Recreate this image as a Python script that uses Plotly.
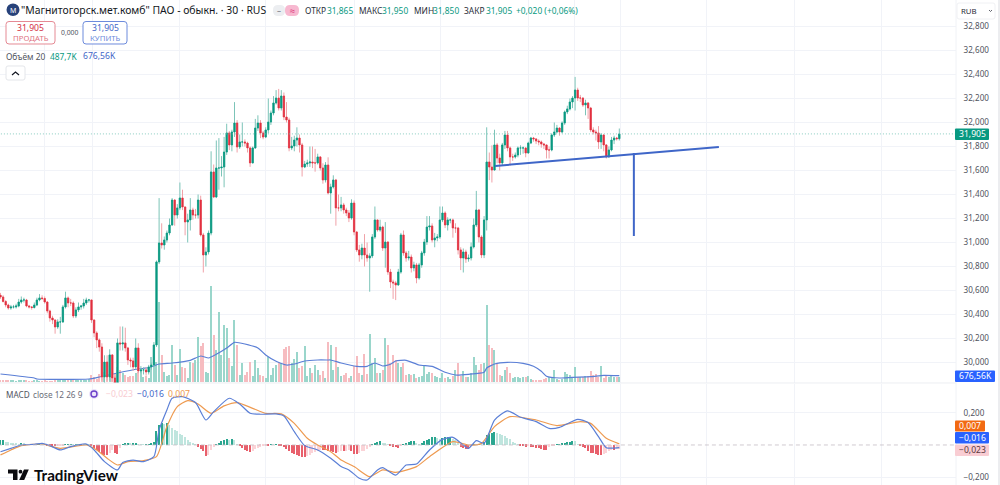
import plotly.graph_objects as go

# MMK 30-minute bars, RUB
closes = [
30.546,30.508,30.479,30.454,30.463,30.463,30.471,30.504,30.521,30.521,
30.471,30.463,30.458,30.479,30.521,30.538,30.533,30.504,30.429,30.371,
30.354,30.296,30.338,30.338,30.463,30.538,30.496,30.496,30.388,30.438,
30.463,30.471,30.496,30.521,30.521,30.354,30.246,30.188,30.129,29.879,
30.004,29.879,30.063,29.871,29.829,30.163,30.154,30.163,30.121,30.021,
30.013,29.963,30.121,29.929,29.938,29.938,29.921,29.963,29.979,30.146,
30.838,30.996,30.979,31.021,31.079,31.146,31.354,31.229,31.288,31.371,
31.296,31.171,31.188,31.271,31.229,31.229,31.354,31.063,30.896,30.921,
31.079,31.588,31.379,31.621,31.621,31.629,31.754,31.913,31.813,31.921,
31.996,31.796,31.838,31.838,31.829,31.788,31.663,31.788,31.954,31.996,
31.913,31.879,31.938,32.004,32.079,32.163,32.204,32.121,32.221,32.046,
32.021,31.788,31.804,31.854,31.871,31.813,31.629,31.654,31.663,31.671,
31.663,31.663,31.713,31.621,31.521,31.646,31.413,31.463,31.521,31.288,
31.288,31.313,31.271,31.246,31.204,31.329,31.088,30.938,30.896,30.954,
30.896,30.871,30.888,31.046,31.188,31.104,31.129,30.954,31.004,30.754,
30.671,30.663,30.646,30.754,31.063,30.913,30.871,30.879,30.788,30.813,
30.704,30.813,30.913,31.004,31.129,31.138,31.021,31.038,31.046,31.188,
31.246,31.146,31.188,31.188,31.121,31.121,30.938,30.871,30.921,30.863,
30.871,30.963,31.146,31.271,31.046,30.896,31.188,31.671,31.629,31.604,
31.813,31.704,31.663,31.813,31.896,31.788,31.713,31.713,31.729,31.788,
31.788,31.788,31.746,31.829,31.871,31.863,31.846,31.838,31.821,31.813,
31.771,31.771,31.896,31.921,31.954,31.921,31.996,32.088,32.113,32.171,
32.204,32.271,32.204,32.204,32.146,32.163,32.121,31.938,31.921,31.913,
31.838,31.896,31.813,31.713,31.771,31.854,31.871,31.865,31.905]

highs = [
30.58,30.56,30.52,30.49,30.48,30.48,30.49,30.53,30.55,30.54,
30.53,30.48,30.47,30.50,30.54,30.57,30.56,30.55,30.51,30.44,
30.39,30.36,30.36,30.38,30.48,30.59,30.55,30.53,30.51,30.46,
30.50,30.48,30.53,30.54,30.53,30.50,30.36,30.26,30.20,30.16,
30.06,30.06,30.11,30.07,29.89,30.20,30.30,30.30,30.29,30.13,
30.04,30.04,30.20,30.16,29.97,29.96,29.96,29.98,30.00,30.17,
30.85,31.37,31.16,31.05,31.10,31.20,31.37,31.36,31.32,31.50,
31.44,31.30,31.24,31.37,31.29,31.28,31.40,31.39,31.08,30.96,
31.10,31.76,31.65,31.85,31.87,31.72,31.88,31.99,31.93,31.94,
32.17,32.02,31.90,32.00,31.86,31.84,31.80,31.80,32.03,32.06,
32.02,31.93,31.96,32.20,32.10,32.22,32.27,32.28,32.27,32.25,
32.17,32.04,31.88,31.89,31.96,31.90,31.83,31.68,31.69,31.80,
31.80,31.78,31.74,31.72,31.66,31.67,31.71,31.49,31.56,31.53,
31.40,31.38,31.33,31.29,31.27,31.36,31.35,31.09,30.98,30.99,
31.07,31.00,30.91,31.07,31.30,31.19,31.19,31.14,31.17,31.01,
30.78,30.69,30.68,30.78,31.08,31.10,30.93,30.93,30.90,30.84,
30.83,30.83,30.93,31.03,31.22,31.22,31.16,31.08,31.07,31.30,
31.30,31.26,31.21,31.20,31.20,31.16,31.13,30.96,30.95,30.94,
30.90,31.00,31.20,31.43,31.28,31.06,31.22,31.96,31.75,31.81,
31.94,31.83,31.74,31.83,31.93,31.93,31.80,31.74,31.75,31.80,
31.81,31.80,31.79,31.84,31.88,31.88,31.87,31.86,31.85,31.83,
31.81,31.80,31.91,32.00,31.98,31.96,32.01,32.10,32.14,32.20,
32.22,32.38,32.29,32.23,32.21,32.19,32.17,32.13,31.96,31.94,
31.97,31.91,31.90,31.82,31.80,31.88,31.89,31.88,31.95]

lows = [
30.53,30.50,30.46,30.44,30.44,30.45,30.45,30.46,30.49,30.50,
30.46,30.45,30.44,30.45,30.47,30.51,30.52,30.49,30.41,30.34,
30.32,30.24,30.28,30.24,30.33,30.45,30.46,30.47,30.37,30.37,
30.42,30.44,30.45,30.48,30.50,30.33,30.21,30.12,30.09,29.85,
29.83,29.85,29.85,29.84,29.82,29.82,30.10,30.10,30.09,29.98,
29.96,29.93,29.94,29.91,29.91,29.90,29.89,29.90,29.94,29.97,
30.13,30.82,30.95,30.94,31.00,31.06,31.14,31.14,31.20,31.27,
31.27,31.06,31.00,31.10,31.19,31.20,31.20,31.05,30.75,30.80,
30.90,31.06,31.37,31.37,31.44,31.55,31.46,31.73,31.77,31.76,
31.88,31.75,31.78,31.80,31.80,31.75,31.63,31.66,31.78,31.93,
31.87,31.86,31.87,31.91,31.98,32.06,32.15,32.10,32.10,32.02,
32.00,31.76,31.77,31.76,31.80,31.75,31.55,31.62,31.63,31.63,
31.62,31.59,31.65,31.60,31.49,31.50,31.40,31.24,31.45,31.14,
31.26,31.26,31.24,31.22,31.17,31.19,31.06,30.92,30.84,30.86,
30.80,30.84,30.59,30.87,31.03,31.09,31.09,30.93,30.79,30.73,
30.62,30.53,30.52,30.64,30.74,30.89,30.84,30.85,30.75,30.76,
30.66,30.69,30.79,30.89,30.98,31.10,31.00,30.96,31.01,31.03,
31.17,31.12,31.10,31.16,31.04,31.08,30.90,30.77,30.75,30.83,
30.84,30.85,30.95,31.13,31.00,30.87,30.87,31.10,31.52,31.50,
31.60,31.66,31.60,31.64,31.78,31.76,31.64,31.68,31.70,31.71,
31.73,31.74,31.71,31.74,31.82,31.84,31.82,31.81,31.79,31.78,
31.70,31.70,31.76,31.88,31.91,31.89,31.91,31.98,32.07,32.10,
32.12,32.10,32.18,32.17,32.13,32.06,32.03,31.92,31.90,31.85,
31.78,31.78,31.76,31.70,31.71,31.76,31.82,31.85,31.85]

first_open = 30.56
opens = [first_open] + closes[:-1]

# Traded volume per bar, thousands of lots
volumes = [
214,160,214,160,214,160,107,160,160,214,
160,107,107,160,160,107,107,214,107,107,
107,160,214,321,375,321,214,268,214,268,
214,214,214,160,321,749,535,321,856,1284,
1070,856,1498,1070,856,1605,1284,963,749,535,
642,642,963,1070,1391,535,642,428,2675,2782,
2140,8560,2889,1070,610,749,3959,1819,749,3531,
1605,1498,428,2140,2033,2354,4815,3852,4173,1070,
963,10272,5029,3424,7490,2889,6099,5778,2568,1712,
6634,3959,749,2033,749,1070,2140,642,2354,1498,
749,642,428,2675,749,1498,1819,2140,2033,3531,
3745,3852,2033,2461,3210,1498,1712,3852,642,1498,
963,1819,1284,749,1177,428,4280,3959,1284,3745,
1605,642,749,963,428,642,1712,2782,963,749,
2996,856,5136,2033,2568,963,963,1284,4708,3959,
2033,2889,2354,2033,1605,2033,749,856,749,856,
428,535,642,1712,856,1070,963,642,535,428,
963,428,535,321,642,1284,2033,642,1177,535,
535,963,2675,1819,1284,1926,2033,8239,3959,3638,
3424,1926,749,642,1284,1605,963,428,535,535,
428,535,535,642,321,214,214,214,214,321,
428,535,535,1284,321,214,321,1070,856,749,
428,1605,535,535,535,642,642,1177,749,856,
535,1712,428,642,535,642,535,535,488]

# 20-bar moving average of volume, thousands of lots
vol_ma_index = [0,13,14,34,38,45,53,57,61,66,73,77,80,83,87,90,94,99,102,106,
                110,113,117,122,126,127,131,137,141,144,147,150,152,156,161,166,
                171,175,180,186,187,190,195,201,205,208,210,215,220,227,232,238]
vol_ma_values = [856,428,321,321,535,963,1391,1530,1926,2033,2322,2782,2568,2964,3638,
                 4248,4066,3638,2889,2215,1819,1926,2247,2354,2354,2354,2033,1680,1680,
                 2033,1712,1894,2247,2322,1819,1680,1038,749,824,1038,1498,1926,2108,
                 2001,1680,1145,610,428,503,567,717,677]

# MACD(12, 26, 9)
macd_index = [0,4,8,13,16,19,23,27,33,36,40,45,47,51,55,59,61,64,66,70,75,79,82,88,92,96,
              100,106,109,113,117,122,127,131,134,138,141,145,147,152,156,160,165,170,
              174,178,180,183,186,190,195,200,206,211,215,222,226,230,233,238]
macd_values = [-0.042,-0.021,0.000,0.004,0.010,-0.004,-0.031,-0.010,0.006,-0.031,-0.104,
               -0.156,-0.110,-0.094,-0.104,-0.073,0.094,0.219,0.292,0.302,0.265,0.156,
               0.208,0.292,0.256,0.198,0.192,0.194,0.181,0.083,-0.004,-0.031,-0.083,
               -0.135,-0.156,-0.208,-0.219,-0.156,-0.142,-0.188,-0.125,-0.119,-0.031,
               0.035,0.048,0.000,-0.021,0.027,0.010,0.156,0.213,0.173,0.146,0.104,0.110,
               0.160,0.140,0.052,-0.017,-0.016]
signal_index = [0,4,8,13,16,23,33,37,41,45,49,55,60,64,68,72,76,81,86,91,97,102,108,113,
                118,122,127,131,136,142,147,152,160,165,174,180,185,190,196,206,214,223,
                227,233,238]
signal_values = [-0.062,-0.031,-0.004,0.004,0.006,-0.021,0.000,-0.031,-0.083,-0.125,-0.104,
                 -0.098,-0.073,0.115,0.240,0.277,0.256,0.198,0.244,0.265,0.229,0.198,0.194,
                 0.135,0.042,0.000,-0.042,-0.094,-0.135,-0.198,-0.156,-0.171,-0.135,-0.073,
                 0.021,0.000,0.010,0.115,0.177,0.156,0.121,0.146,0.135,0.042,0.007]
histogram = [
.03,.03,.02,.016,.014,.012,.008,.006,.008,.007,
.005,.004,.004,.003,.004,.005,.004,.002,-.002,-.004,
-.006,-.008,-.006,-.004,-.002,.003,.004,.004,.003,.005,
.006,.004,.005,.006,.003,-.006,-.018,-.03,-.045,-.055,
-.06,-.06,-.05,-.03,-.05,-.055,-.02,.004,.008,.012,
.008,.01,.012,.005,.003,.002,.003,.004,.008,.02,
.09,.125,.135,.13,.135,.125,.105,.095,.085,.07,
.06,.05,.03,.02,.012,.005,-.012,-.025,-.04,-.07,
-.065,-.03,-.012,.005,.014,.022,.03,.036,.032,.036,
.03,.005,-.008,-.02,-.03,-.035,-.045,-.04,-.025,-.018,
-.012,-.006,-.004,-.004,.003,.002,.003,-.002,-.006,-.014,
-.022,-.04,-.05,-.055,-.06,-.07,-.072,-.078,-.07,-.06,
-.05,-.042,-.036,-.03,-.03,-.034,-.04,-.04,-.045,-.05,
-.045,-.04,-.04,-.035,-.03,-.04,-.055,-.055,-.05,-.04,
-.035,-.025,-.012,.003,.012,.018,.022,.015,.014,.003,
-.005,-.01,-.014,-.016,-.005,.003,.015,.02,.022,.024,
.014,.006,.012,.022,.03,.04,.05,.052,.042,.04,
.045,.05,.05,.05,.04,.03,.012,-.01,-.016,-.024,
-.024,-.008,.006,.002,.005,.004,.02,.06,.07,.075,
.08,.075,.07,.065,.055,.045,.035,.02,.01,.004,
-.005,-.008,-.01,-.008,-.012,-.014,-.018,-.02,-.025,-.03,
-.03,-.012,-.006,-.004,.004,.006,.008,.012,.016,.02,
.025,.024,.005,-.008,-.012,-.02,-.035,-.05,-.05,-.055,
-.06,-.062,-.055,-.05,-.04,-.03,-.03,-.024,-.023]

# User drawings: neckline and measured move
neckline_bar = [190.2, 276.3]
neckline_price = [31.638, 31.796]
target_bar = [243.6, 243.6]
target_price = [31.746, 31.054]

session_ticks = [17.1, 35.2, 68.7, 102.1, 136.0, 169.4, 202.9, 220.6, 238.3, 271.7, 305.2, 338.7]
price_ticks = [30.0, 30.2, 30.4, 30.6, 30.8, 31.0, 31.2, 31.4, 31.6, 31.8, 32.0, 32.2, 32.4, 32.6, 32.8]
macd_ticks = [-0.2, 0.2]
last_price = 31.905

assert len(closes) == len(highs) == len(lows) == len(volumes) == len(histogram), (
    len(closes), len(highs), len(lows), len(volumes), len(histogram))
assert len(vol_ma_index) == len(vol_ma_values), (len(vol_ma_index), len(vol_ma_values))
assert len(macd_index) == len(macd_values), (len(macd_index), len(macd_values))
assert len(signal_index) == len(signal_values), (len(signal_index), len(signal_values))

W, H = 1000, 485
UP, DOWN = "#089981", "#e2303f"
UP_SOFT, DOWN_SOFT = "#9ad6cb", "#f6bcc0"
WICK_UP, WICK_DOWN = "#7cc4b8", "#f0a2a8"
BLUE, ORANGE = "#5b7fd6", "#ee9a50"
GRID = "#f1f3f8"
TEXT = "#2a2e39"
FONT = "Noto Sans, sans-serif"

bars = list(range(len(closes)))
rising = [c >= o for o, c in zip(opens, closes)]


def hist_colour(i):
    v = histogram[i]
    prev = histogram[i - 1] if i else v
    if v >= 0:
        return "#2ba690" if v >= prev else "#bfe5de"
    return "#e8606c" if v <= prev else "#fbd3d7"


fig = go.Figure()

fig.add_trace(go.Bar(
    x=bars, y=volumes, width=0.5, xaxis="x", yaxis="y",
    marker=dict(color=[UP_SOFT if r else DOWN_SOFT for r in rising], line_width=0),
))
fig.add_trace(go.Scatter(
    x=vol_ma_index, y=vol_ma_values, mode="lines", xaxis="x", yaxis="y",
    line=dict(color=BLUE, width=1.2, shape="spline", smoothing=0.5),
))

# Wicks in the softer shade, bodies on top in the full colour
fig.add_trace(go.Candlestick(
    x=bars, open=opens, high=highs, low=lows, close=closes, xaxis="x", yaxis="y2",
    whiskerwidth=0,
    increasing=dict(line=dict(color=WICK_UP, width=1), fillcolor=UP),
    decreasing=dict(line=dict(color=WICK_DOWN, width=1), fillcolor=DOWN),
))
fig.add_trace(go.Candlestick(
    x=bars, open=opens, close=closes, xaxis="x", yaxis="y2",
    high=[max(o, c) for o, c in zip(opens, closes)],
    low=[min(o, c) for o, c in zip(opens, closes)],
    whiskerwidth=0,
    increasing=dict(line=dict(color=UP, width=0.6), fillcolor=UP),
    decreasing=dict(line=dict(color=DOWN, width=0.6), fillcolor=DOWN),
))
fig.add_trace(go.Scatter(
    x=neckline_bar, y=neckline_price, mode="lines", xaxis="x", yaxis="y2",
    line=dict(color="#3f66c8", width=2),
))
fig.add_trace(go.Scatter(
    x=target_bar, y=target_price, mode="lines", xaxis="x", yaxis="y2",
    line=dict(color="#3f66c8", width=2),
))

fig.add_trace(go.Bar(
    x=bars, y=histogram, width=0.5, xaxis="x2", yaxis="y3",
    marker=dict(color=[hist_colour(i) for i in bars], line_width=0),
))
fig.add_trace(go.Scatter(
    x=signal_index, y=signal_values, mode="lines", xaxis="x2", yaxis="y3",
    line=dict(color=ORANGE, width=1.2, shape="spline", smoothing=0.6),
))
fig.add_trace(go.Scatter(
    x=macd_index, y=macd_values, mode="lines", xaxis="x2", yaxis="y3",
    line=dict(color=BLUE, width=1.2, shape="spline", smoothing=0.6),
))


def px(x):
    return x / W


def py(y):
    return 1 - y / H


def rounded(x0, y0, x1, y1, r):
    pts = [("M", x0 + r, y0), ("L", x1 - r, y0), ("Q", x1, y0, x1, y0 + r), ("L", x1, y1 - r),
           ("Q", x1, y1, x1 - r, y1), ("L", x0 + r, y1), ("Q", x0, y1, x0, y1 - r),
           ("L", x0, y0 + r), ("Q", x0, y0, x0 + r, y0)]
    out = []
    for p in pts:
        coords = p[1:]
        pairs = [f"{px(coords[k]):.5f},{py(coords[k + 1]):.5f}" for k in range(0, len(coords), 2)]
        out.append(p[0] + " ".join(pairs))
    return " ".join(out) + " Z"


def poly(points, closed=True):
    body = " L".join(f"{px(x):.5f},{py(y):.5f}" for x, y in points)
    return "M" + body + (" Z" if closed else "")


shapes = []
annotations = []


def box(x0, y0, x1, y1, fill="rgba(0,0,0,0)", line=None, r=1.5, lw=1):
    shapes.append(dict(type="path", xref="paper", yref="paper", path=rounded(x0, y0, x1, y1, r),
                       fillcolor=fill, line=dict(color=line or "rgba(0,0,0,0)", width=lw), layer="above"))


def stroke(points, colour, lw=1, fill=None, closed=False):
    shapes.append(dict(type="path", xref="paper", yref="paper", path=poly(points, closed),
                       fillcolor=fill or "rgba(0,0,0,0)", line=dict(color=colour, width=lw), layer="above"))


def label(x, y, text, colour=TEXT, size=9, anchor="left", family=FONT):
    annotations.append(dict(xref="paper", yref="paper", x=px(x), y=py(y), text=text, showarrow=False,
                            xanchor=anchor, yanchor="middle", font=dict(color=colour, size=size, family=family),
                            borderpad=0, borderwidth=0))


# Pane separators
stroke([(0, 383), (956, 383)], "#eceef2")
stroke([(956, 0), (956, 485)], "#f0f2f6")
stroke([(999, 0), (999, 485)], "#d9dbe0")

# Last price line and zero line
shapes.append(dict(type="line", xref="x", yref="y2", x0=-1, x1=367.5, y0=last_price, y1=last_price,
                   line=dict(color="#6cc0b1", width=0.8, dash="1px,2px"), layer="above"))
shapes.append(dict(type="line", xref="x2", yref="y3", x0=-1, x1=367.5, y0=0, y1=0,
                   line=dict(color="#c4bcc4", width=0.8, dash="4px,3px"), layer="above"))

# Header row
shapes.append(dict(type="circle", xref="paper", yref="paper", x0=px(6.5), x1=px(19.5), y0=py(16), y1=py(3.5),
                   fillcolor="#27427a", line_width=0, layer="above"))
label(13, 10, "M", "#ffffff", 7, "center")
label(21, 10, '"Магнитогорск.мет.комб" ПАО - обыкн. · 30 · RUS', "#131722", 10.4)
box(273, 5, 285, 16, "#eceef1", r=5)
label(279, 10, "–", "#787b86", 8, "center")
box(285, 5, 299, 16, "#f7b8d0", r=5)
label(292, 10, "≈", "#d81e6b", 9, "center")

header_parts = [(305, "ОТКР", TEXT), (327, "31,865", UP), (359, "МАКС", TEXT), (382, "31,950", UP),
                (414, "МИН", TEXT), (433, "31,850", UP), (464, "ЗАКР", TEXT), (486, "31,905", UP),
                (516, "+0,020 (+0,06%)", UP)]
for x, text, colour in header_parts:
    label(x, 10, text, colour, 8.4)

# Order buttons
box(6, 21.5, 55, 44, "#ffffff", "#e58a94", r=3)
label(30.5, 28, "31,905", "#d32f3f", 8.6, "center")
label(30.5, 38, "ПРОДАТЬ", "#e0737f", 7.8, "center")
label(69.5, 32.5, "0,000", "#50535e", 6.8, "center")
box(83, 21.5, 127, 44, "#ffffff", "#6d8bdc", r=3)
label(105, 28, "31,905", "#3f66c8", 8.6, "center")
label(105, 38, "КУПИТЬ", "#6d8bdc", 7.8, "center")

# Volume legend
label(6, 56, "Объём 20", "#50535e", 8.4)
label(50, 56, "487,7K", UP, 8.4)
label(83, 56, "676,56K", "#3f66c8", 8.6)
box(6, 66, 25, 80, "#ffffff", "#e4e6ea", r=2)
stroke([(12, 75), (15.5, 72), (19, 75)], "#131722", 1.2)

# Currency selector
box(957, 3, 995, 19, "#ffffff", "#f0f1f4", r=2)
label(961, 11, "RUB", "#2a2e39", 7.8)
stroke([(989, 10), (990.5, 11.5), (992, 10)], "#50535e", 0.9)

# MACD legend
label(6, 394, "MACD", "#50535e", 8.2)
label(33, 394, "close 12 26 9", "#6a6d78", 8.2)
shapes.append(dict(type="circle", xref="paper", yref="paper", x0=px(89), x1=px(99), y0=py(399), y1=py(389),
                   fillcolor="#ece4fa", line=dict(color="#ece4fa", width=0), layer="above"))
shapes.append(dict(type="circle", xref="paper", yref="paper", x0=px(91), x1=px(97), y0=py(397), y1=py(391),
                   fillcolor="rgba(0,0,0,0)", line=dict(color="#6a3fc8", width=1.4), layer="above"))
label(106, 394, "−0,023", "#f8ccd1", 8.6)
label(137, 394, "−0,016", "#3f66c8", 8.6)
label(168, 394, "0,007", ORANGE, 8.6)

# Axis value tags
box(955, 128.5, 989, 140, UP, r=1)
label(972, 134.3, "31,905", "#ffffff", 8.6, "center")
box(955, 370.5, 995, 382, "#2962ff", r=1)
label(975, 376.3, "676,56K", "#ffffff", 8.6, "center")
box(955, 420.5, 985, 431.5, "#f26a12", r=1)
label(970, 426, "0,007", "#ffffff", 8.6, "center")
box(955, 432, 989, 443.5, "#2962ff", r=1)
label(972, 437.8, "−0,016", "#ffffff", 8.6, "center")
box(955, 444.5, 989, 456, "#f9cdd3", r=1)
label(972, 450, "−0,023", "#5a3a40", 8.6, "center")

# Wordmark
logo = "#0b0b0f"
stroke([(8, 469.5), (17.5, 469.5), (17.5, 480), (13, 480), (13, 473.5), (8, 473.5)], logo, 0, logo, True)
shapes.append(dict(type="circle", xref="paper", yref="paper", x0=px(18.6), x1=px(22.4), y0=py(473.6), y1=py(469.8),
                   fillcolor=logo, line_width=0, layer="above"))
stroke([(24, 469.5), (28.8, 469.5), (24.2, 480), (19.2, 480)], logo, 0, logo, True)
label(33.5, 475, "<b>TradingView</b>", logo, 15.2, family="Lato, sans-serif")

axis_common = dict(showline=False, zeroline=False, tickfont=dict(size=8.1, color="#50535e", family=FONT))

fig.update_layout(
    width=W, height=H, autosize=False, margin=dict(l=0, r=0, t=0, b=0),
    paper_bgcolor="#ffffff", plot_bgcolor="#ffffff", showlegend=False, hovermode=False,
    bargap=0, shapes=shapes, annotations=annotations, boxgap=0.3,
    font=dict(family=FONT),
    xaxis=dict(domain=[0, 0.956], range=[-0.192, 367.5], tickvals=session_ticks, showticklabels=False,
               showgrid=True, gridcolor=GRID, gridwidth=1, zeroline=False, showline=False,
               rangeslider=dict(visible=False), anchor="y"),
    xaxis2=dict(domain=[0, 0.956], matches="x", tickvals=session_ticks, showticklabels=False,
                showgrid=True, gridcolor=GRID, gridwidth=1, zeroline=False, showline=False, anchor="y3"),
    yaxis=dict(domain=[1 - 383 / H, 1], range=[-107, 40874], visible=False, fixedrange=True),
    yaxis2=dict(overlaying="y", side="right", anchor="x", range=[29.829, 33.021],
                tickvals=price_ticks, ticktext=[f"{p:.3f}".replace(".", ",") for p in price_ticks],
                showgrid=True, gridcolor=GRID, gridwidth=1, ticks="outside", ticklen=5,
                tickcolor="rgba(0,0,0,0)", **axis_common),
    yaxis3=dict(domain=[0, 1 - 384 / H], side="right", anchor="x2", range=[-0.25, 0.381],
                tickvals=macd_ticks, ticktext=["−0,200", "0,200"],
                showgrid=True, gridcolor=GRID, gridwidth=1, ticks="outside", ticklen=5,
                tickcolor="rgba(0,0,0,0)", **axis_common),
)

fig.write_html("out.html", config=dict(displayModeBar=False))
